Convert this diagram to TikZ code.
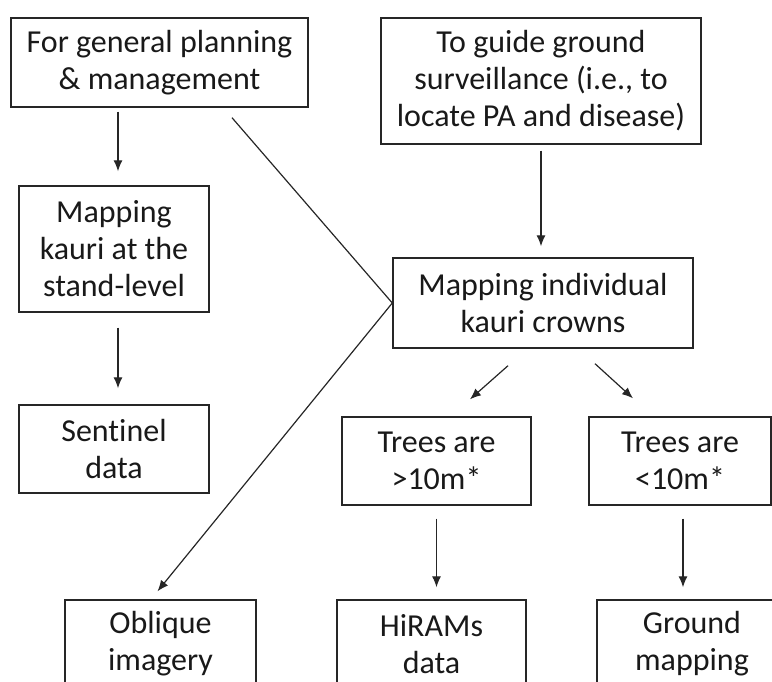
\documentclass[tikz,border=0pt]{standalone}
\usepackage{fontspec}
\setmainfont[Ligatures=NoCommon]{Carlito}
\usepackage{tikz}
\usetikzlibrary{arrows.meta}
\usetikzlibrary{calc}

\begin{document}
\begin{tikzpicture}[x=1pt,y=-1pt]
	\useasboundingbox (0,0) rectangle (772,681);
	\clip (0,0) rectangle (772,681);
	\begin{scope}[every node/.style = {rectangle, draw=black!85, line width=1.4pt,
		align=center, inner sep=0pt, text=black!90,
		font=\fontsize{32}{37}\selectfont}]
		\node[minimum width=297, minimum height=89] (plan) at (159.5,62.5) {For general planning\\\& management};
		\node[minimum width=190, minimum height=126] (stand) at (114,249) {Mapping\\kauri at the\\stand-level};
		\node[minimum width=190, minimum height=88] (sentinel) at (114,449) {Sentinel\\data};
		\node[minimum width=320, minimum height=126] (guide) at (541,81) {To guide ground\\surveillance (i.e., to\\locate PA and disease)};
		\node[minimum width=300, minimum height=90] (crowns) at (543,303) {Mapping individual\\kauri crowns};
		\node[minimum width=189, minimum height=88] (tall) at (436.5,461) {Trees are\\>10m*};
		\node[minimum width=182, minimum height=88] (short) at (680,461) {Trees are\\<10m*};
		\node[minimum width=191, minimum height=88] (oblique) at (160.5,644) {Oblique\\imagery};
		\node[minimum width=189, minimum height=88] (hirams) at (431.5,644) {HiRAMs\\data};
		\node[minimum width=190, minimum height=88] (ground) at (692,644) {Ground\\mapping};
	\end{scope}
	\begin{scope}[>={Latex[length=11pt,width=9pt]},
			every edge/.style={draw=black!85, line width=1.2pt}]
		\path [->, shorten <=4pt, shorten >=14pt] ($(stand.north |- plan.south)+(4,0)$) edge ($(stand.north)+(4,0)$);
		\path [->, shorten <=15pt, shorten >=16pt] ($(stand.south)+(4,0)$) edge ($(sentinel.north)+(4,0)$);
		\path [->, shorten <=6pt, shorten >=11pt] (guide.south) edge (guide.south |- crowns.north);
		\path [->] ($(crowns.south)+(-35,17)$) edge ($(tall.north)+(33.5,-17)$);
		\path [->] ($(crowns.south)+(52,15)$) edge ($(short.north)+(-47,-18)$);
		\path [->, shorten <=13pt, shorten >=12pt] (tall.south) edge (tall.south |- hirams.north);
		\path [->, shorten <=13pt, shorten >=12pt] ($(short.south)+(3,0)$) edge ($(short.south |- ground.north)+(3,0)$);
		\path [-, draw=black!70, line width=0.9pt] ($(plan.south)+(72.5,10)$) edge (crowns.west);
		\path [->] (crowns.west) edge ($(oblique.north)+(-3,-8)$);
	\end{scope}
\end{tikzpicture}
\end{document}
